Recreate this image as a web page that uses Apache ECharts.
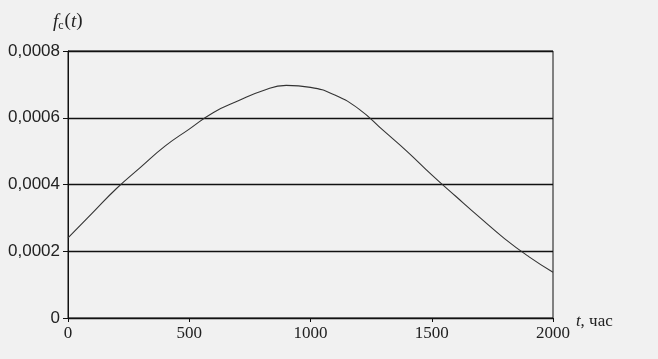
<!DOCTYPE html>
<html><head><meta charset="utf-8">
<script src="https://cdn.jsdelivr.net/npm/echarts@6/dist/echarts.min.js"></script>
<style>html,body{margin:0;padding:0;background:#f1f1f1}#c{width:658px;height:359px}</style>
</head><body><div id="c"></div>
<script>
const tHours = [0,100,200,300,400,500,600,700,800,900,1000,1100,1200,1300,1400,1500,1600,1700,1800,1900,2000];
const fcValues = [0.000240,0.000314,0.000388,0.000452,0.000515,0.000566,0.000616,0.000650,0.000680,0.000697,0.000691,0.000668,0.000626,0.000562,0.000498,0.000429,0.000364,0.000300,0.000238,0.000184,0.000137];
const yTicks = [0,0.0002,0.0004,0.0006,0.0008];
const xTicks = [0,500,1000,1500,2000];

const chart = echarts.init(document.getElementById('c'));
const serif = '"Liberation Serif", "DejaVu Serif", serif';
const sans = '"Liberation Sans", Arial, sans-serif';
chart.setOption({
  backgroundColor: '#f1f1f1',
  animation: false,
  grid: {left: 68, right: 105, top: 51, bottom: 41, show: true, borderColor: '#111', borderWidth: 1, backgroundColor: 'transparent'},
  xAxis: {
    type: 'value', min: 0, max: 2000, interval: 500,
    axisLine: {show: true, lineStyle: {color: '#111', width: 1}},
    axisTick: {show: true, length: 4, lineStyle: {color: '#111'}},
    splitLine: {show: false},
    axisLabel: {color: '#222', fontFamily: serif, fontSize: 17, margin: 7,
      formatter: v => xTicks.includes(v) ? String(v) : ''},
    name: '{i|t}{n|, час}', nameLocation: 'end', nameGap: 25,
    nameTextStyle: {rich: {
      i: {fontFamily: serif, fontStyle: 'italic', fontSize: 17, color: '#222'},
      n: {fontFamily: serif, fontSize: 17, color: '#222'}
    }, verticalAlign: 'middle', align: 'left', padding: [8,0,0,-14]}
  },
  yAxis: {
    type: 'value', min: 0, max: 0.0008, interval: 0.0002,
    axisLine: {show: true, lineStyle: {color: '#111', width: 1}},
    axisTick: {show: true, length: 5, lineStyle: {color: '#111'}},
    splitLine: {show: true, lineStyle: {color: '#111', width: 1.3}},
    axisLabel: {color: '#222', fontFamily: sans, fontSize: 17, margin: 8,
      formatter: v => {
        const t = yTicks.find(y => Math.abs(y - v) < 1e-9);
        if (t === undefined) return '';
        return t === 0 ? '0' : t.toFixed(4).replace('.', ',');
      }},
    name: '{i|f}{s|c}{n|(}{i|t}{n|)}', nameLocation: 'end', nameGap: 19,
    nameTextStyle: {align: 'left', padding: [0,0,0,-15], rich: {
      i: {fontFamily: serif, fontStyle: 'italic', fontSize: 19, color: '#222'},
      s: {fontFamily: serif, fontSize: 12, color: '#222', verticalAlign: 'bottom', padding: [9,1,0,0]},
      n: {fontFamily: serif, fontSize: 19, color: '#222'}
    }}
  },
  series: [{
    type: 'line', data: tHours.map((t, i) => [t, fcValues[i]]),
    smooth: true, symbol: 'none',
    lineStyle: {color: '#333', width: 1.1}
  }]
});
</script></body></html>
